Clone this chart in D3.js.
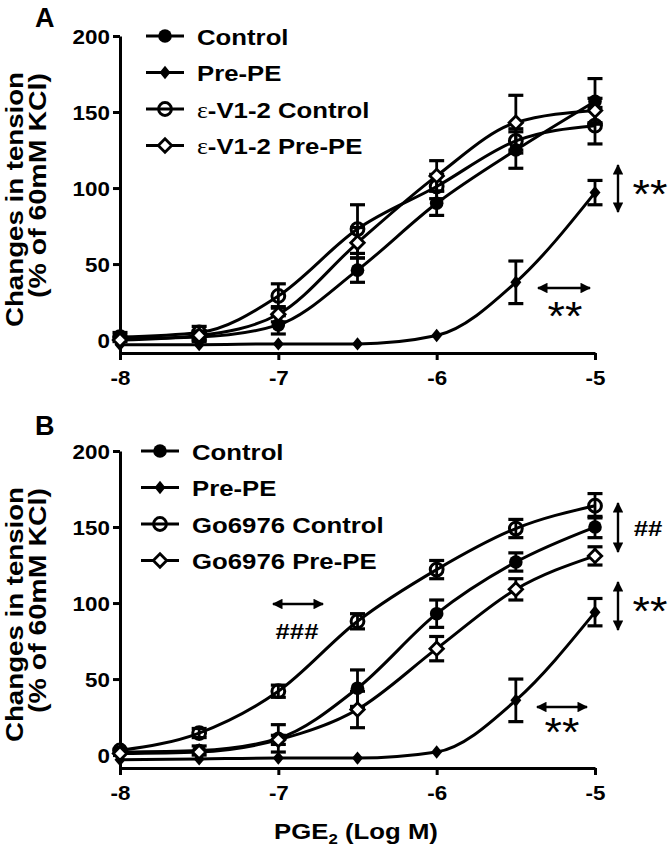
<!DOCTYPE html>
<html><head><meta charset="utf-8">
<script src="https://cdn.jsdelivr.net/npm/d3@7"></script>
<style>
html,body{margin:0;padding:0;background:#fff;}
text{font-family:"Liberation Sans",Arial,sans-serif;}
</style></head>
<body>
<svg id="chart" width="670" height="848"></svg>
<script>
// ---------- data ----------
const logDose = [-8, -7.5, -7, -6.5, -6, -5.5, -5];
const xTickVals = [-8, -7, -6, -5];
const yTickVals = [0, 50, 100, 150, 200];

const aLabels = ["Control", "Pre-PE", "ε-V1-2 Control", "ε-V1-2 Pre-PE"];
const aControl = [1, 2, 10, 46, 90, 125, 157];
const aControlErr = [2, 3, 6, 8, 8, 12, 15];
const aPrePE = [-3, -3, -2.5, -2.5, 3, 38, 97];
const aPrePEErr = [0, 0, 0, 0, 0, 14, 8];
const aEvControl = [2, 5, 29, 73, 101, 131, 141];
const aEvControlErr = [3, 4, 8, 16, 8, 8, 12];
const aEvPrePE = [0, 3, 17, 64, 108, 143, 151];
const aEvPrePEErr = [2, 3, 5, 10, 10, 18, 8];

const bLabels = ["Control", "Pre-PE", "Go6976 Control", "Go6976 Pre-PE"];
const bControl = [2, 3, 11, 44, 93, 127, 150];
const bControlErr = [2, 3, 9, 12, 9, 6, 7];
const bPrePE = [-3, -2.5, -2, -2, 2, 36, 94];
const bPrePEErr = [0, 0, 0, 0, 0, 14, 9];
const bGoControl = [3, 14.5, 42, 88, 122, 149, 164];
const bGoControlErr = [2, 3, 4, 5, 6, 6, 8];
const bGoPrePE = [1, 2, 10, 30, 70, 109, 131];
const bGoPrePEErr = [2, 2, 3, 12, 8, 7, 6];

const markerTypes = ["filledCircle", "filledDiamond", "openCircle", "openDiamond"];

// ---------- drawing ----------
const svg = d3.select("#chart");
const defs = svg.append("defs");
defs.append("marker").attr("id", "ah").attr("viewBox", "0 0 10 10")
  .attr("refX", 9).attr("refY", 5).attr("markerWidth", 4.4).attr("markerHeight", 4.4)
  .attr("markerUnits", "strokeWidth").attr("orient", "auto-start-reverse")
  .append("path").attr("d", "M0,0L10,5L0,10Z").attr("fill", "#000");

const SX = 1.12; // horizontal stretch of the reference text

function stretchedText(g, x, y, size, weight, anchor) {
  return g.append("g").attr("transform", `translate(${x},${y}) scale(${SX},1)`)
    .append("text").attr("font-size", size).attr("font-weight", weight || "bold")
    .attr("text-anchor", anchor || "start").attr("fill", "#000");
}

function drawMarker(g, type, cx, cy) {
  if (type === "filledCircle") {
    g.append("circle").attr("cx", cx).attr("cy", cy).attr("r", 6.8).attr("fill", "#000");
  } else if (type === "openCircle") {
    g.append("circle").attr("cx", cx).attr("cy", cy).attr("r", 6.4)
      .attr("fill", "none").attr("stroke", "#000").attr("stroke-width", 3);
  } else if (type === "filledDiamond") {
    g.append("path").attr("d", d3.symbol(d3.symbolDiamond2, 95)())
      .attr("transform", `translate(${cx},${cy}) scale(0.9,1.1)`).attr("fill", "#000");
  } else {
    g.append("path").attr("d", d3.symbol(d3.symbolDiamond2, 115)())
      .attr("transform", `translate(${cx},${cy})`)
      .attr("fill", "#fff").attr("stroke", "#000").attr("stroke-width", 2.8);
  }
}

function drawPanel(cfg) {
  const g = svg.append("g");
  const x = d3.scaleLinear().domain([-8, -5]).range([120, 595]);
  const y = d3.scaleLinear().domain([-8.5, 200]).range([cfg.bottom, cfg.bottom - 317]);

  // axes
  const yAxis = g.append("g").attr("transform", `translate(${x(-8)},0)`)
    .call(d3.axisLeft(y).tickValues(yTickVals).tickFormat(d => String(d))
      .tickSize(7).tickSizeOuter(0).tickPadding(2));
  const xAxis = g.append("g").attr("transform", `translate(0,${cfg.bottom})`)
    .call(d3.axisBottom(x).tickValues(xTickVals).tickFormat(d => String(d))
      .tickSize(7).tickSizeOuter(0).tickPadding(6));
  [yAxis, xAxis].forEach(a => {
    a.select(".domain").attr("stroke-width", 3).attr("stroke", "#000");
    a.selectAll(".tick line").attr("stroke-width", 3).attr("stroke", "#000");
    a.selectAll(".tick text").attr("font-size", 20).attr("font-weight", "bold")
      .attr("fill", "#000").attr("font-family", "Liberation Sans, Arial, sans-serif")
      .attr("transform", `scale(${SX},1)`);
  });
  yAxis.selectAll(".tick text").attr("dy", "0.36em");
  xAxis.selectAll(".tick text").attr("dy", "0.95em");

  // y title (two lines, top-aligned)
  const topY = y(200) + 36;
  g.append("text").attr("transform", `translate(23,${topY}) rotate(-90)`)
    .attr("text-anchor", "end").attr("font-size", 23).attr("font-weight", "bold")
    .attr("textLength", 255).attr("lengthAdjust", "spacingAndGlyphs")
    .text("Changes in tension");
  g.append("text").attr("transform", `translate(46,${topY + 1}) rotate(-90)`)
    .attr("text-anchor", "end").attr("font-size", 23).attr("font-weight", "bold")
    .attr("textLength", 225).attr("lengthAdjust", "spacingAndGlyphs")
    .text("(% of 60mM KCl)");

  // panel letter
  g.append("text").attr("x", 35).attr("y", cfg.letterY).attr("font-size", 27)
    .attr("font-weight", "bold").text(cfg.letter);

  const line = d3.line().x((d, i) => x(logDose[i])).y(d => y(d)).curve(d3.curveMonotoneX);

  // curves
  cfg.series.forEach(s => {
    g.append("path").attr("d", line(s.values)).attr("fill", "none")
      .attr("stroke", "#000").attr("stroke-width", 3);
  });
  // error bars
  cfg.series.forEach(s => {
    s.values.forEach((v, i) => {
      const e = s.err[i];
      if (e < 3) return;
      const px = x(logDose[i]);
      g.append("line").attr("x1", px).attr("x2", px).attr("y1", y(v - e)).attr("y2", y(v + e))
        .attr("stroke", "#000").attr("stroke-width", 2.8);
      [v - e, v + e].forEach(w => g.append("line").attr("x1", px - 7.5).attr("x2", px + 7.5)
        .attr("y1", y(w)).attr("y2", y(w)).attr("stroke", "#000").attr("stroke-width", 3.2));
    });
  });
  // markers
  cfg.series.forEach(s => {
    s.values.forEach((v, i) => drawMarker(g, s.type, x(logDose[i]), y(v)));
  });

  // legend
  cfg.series.forEach((s, k) => {
    const ly = y(200) + k * 36.5;
    g.append("line").attr("x1", cfg.legX - 19).attr("x2", cfg.legX + 19).attr("y1", ly).attr("y2", ly)
      .attr("stroke", "#000").attr("stroke-width", 3);
    drawMarker(g, s.type, cfg.legX, ly);
    const t = stretchedText(g, cfg.legX + 32, ly + 8.5, 23, "bold");
    const lab = s.label;
    if (lab.startsWith("ε")) {
      t.append("tspan").attr("font-family", "Liberation Serif, Times New Roman, serif")
        .attr("font-weight", "normal").text("ε");
      t.append("tspan").text(lab.slice(1));
    } else {
      t.text(lab);
    }
  });

  // annotations
  const arrow = (x1, y1, x2, y2) => g.append("line").attr("x1", x1).attr("y1", y1)
    .attr("x2", x2).attr("y2", y2).attr("stroke", "#000").attr("stroke-width", 2.4)
    .attr("marker-start", "url(#ah)").attr("marker-end", "url(#ah)");
  cfg.annotations.forEach(a => {
    if (a.dir === "v") arrow(a.x, a.y1, a.x, a.y2);
    else arrow(a.x1, a.y, a.x2, a.y);
    stretchedText(g, a.tx, a.ty, a.size, a.weight, "middle").text(a.text);
  });
  return { x, y };
}

drawPanel({
  letter: "A", letterY: 27, bottom: 353, legX: 165,
  series: [
    { label: aLabels[0], type: markerTypes[0], values: aControl, err: aControlErr },
    { label: aLabels[1], type: markerTypes[1], values: aPrePE, err: aPrePEErr },
    { label: aLabels[2], type: markerTypes[2], values: aEvControl, err: aEvControlErr },
    { label: aLabels[3], type: markerTypes[3], values: aEvPrePE, err: aEvPrePEErr }
  ],
  annotations: [
    { dir: "v", x: 618, y1: 165, y2: 212, tx: 650, ty: 208, text: "**", size: 40, weight: "normal" },
    { dir: "h", y: 288, x1: 538, x2: 590, tx: 565, ty: 330, text: "**", size: 40, weight: "normal" }
  ]
});

drawPanel({
  letter: "B", letterY: 435, bottom: 768, legX: 160,
  series: [
    { label: bLabels[0], type: markerTypes[0], values: bControl, err: bControlErr },
    { label: bLabels[1], type: markerTypes[1], values: bPrePE, err: bPrePEErr },
    { label: bLabels[2], type: markerTypes[2], values: bGoControl, err: bGoControlErr },
    { label: bLabels[3], type: markerTypes[3], values: bGoPrePE, err: bGoPrePEErr }
  ],
  annotations: [
    { dir: "v", x: 618, y1: 503, y2: 552, tx: 648, ty: 536, text: "##", size: 23, weight: "bold" },
    { dir: "v", x: 618, y1: 582, y2: 630, tx: 650, ty: 625, text: "**", size: 40, weight: "normal" },
    { dir: "h", y: 707, x1: 537, x2: 587, tx: 562, ty: 746, text: "**", size: 40, weight: "normal" },
    { dir: "h", y: 604, x1: 273, x2: 323, tx: 297, ty: 639, text: "###", size: 23, weight: "bold" }
  ]
});

// x-axis title
const xt = svg.append("g").attr("transform", `translate(356,839) scale(${SX},1)`)
  .append("text").attr("text-anchor", "middle").attr("font-size", 23).attr("font-weight", "bold");
xt.append("tspan").text("PGE");
xt.append("tspan").attr("font-size", 15).attr("dy", 5).text("2");
xt.append("tspan").attr("dy", -5).text(" (Log M)");
</script>
</body></html>
